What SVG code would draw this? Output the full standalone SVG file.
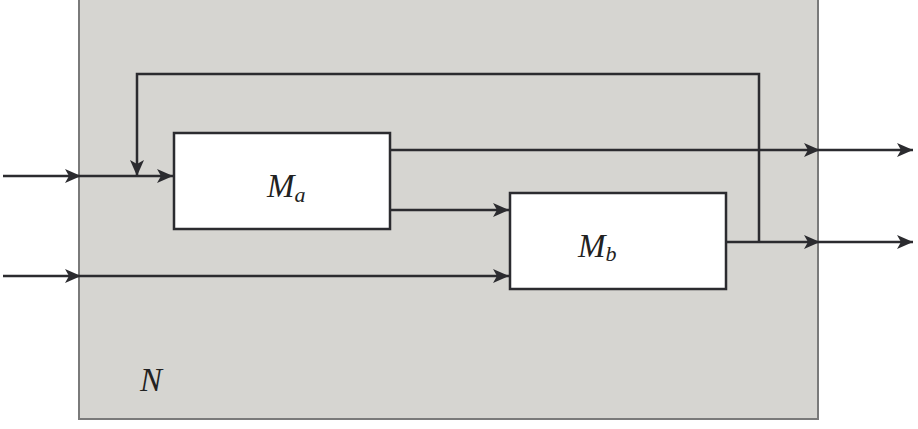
<svg xmlns="http://www.w3.org/2000/svg" width="918" height="429" viewBox="0 0 918 429">
<style>
.ln{fill:none;stroke:#2b2b2f;stroke-width:2.5}
.blk{fill:#fff;stroke:#2b2b2f;stroke-width:2.5}
.lbl{font-family:"Liberation Serif",serif;font-style:italic;font-size:33px;fill:#222}
.sub{font-size:22px}
</style>
<defs>
<marker id="ar" markerUnits="userSpaceOnUse" markerWidth="20" markerHeight="14" refX="16" refY="7" orient="auto">
<path d="M0,0 L16,7 L0,14 L4,7 Z" fill="#2b2b2f"/>
</marker>
</defs>
<g id="N">
<rect x="79" y="-2" width="739" height="421" fill="#d6d5d1" stroke="#7a7a7a" stroke-width="2"/>
<text class="lbl" x="140" y="391">N</text>
</g>
<g id="Ma">
<rect class="blk" x="174" y="133" width="216" height="96"/>
<text class="lbl" x="267" y="197">M<tspan class="sub" dy="5">a</tspan></text>
</g>
<g id="Mb">
<rect class="blk" x="510" y="193" width="216" height="96"/>
<text class="lbl" x="578" y="257">M<tspan class="sub" dy="4">b</tspan></text>
</g>
<g id="connectors">
<line class="ln" x1="3" y1="176" x2="81" y2="176" marker-end="url(#ar)"/>
<line class="ln" x1="81" y1="176" x2="173" y2="176" marker-end="url(#ar)"/>
<line class="ln" x1="3" y1="276" x2="81" y2="276" marker-end="url(#ar)"/>
<line class="ln" x1="81" y1="276" x2="509" y2="276" marker-end="url(#ar)"/>
<line class="ln" x1="390" y1="210" x2="509" y2="210" marker-end="url(#ar)"/>
<line class="ln" x1="390" y1="150" x2="820" y2="150" marker-end="url(#ar)"/>
<line class="ln" x1="820" y1="150" x2="913" y2="150" marker-end="url(#ar)"/>
<line class="ln" x1="726" y1="242" x2="820" y2="242" marker-end="url(#ar)"/>
<line class="ln" x1="820" y1="242" x2="913" y2="242" marker-end="url(#ar)"/>
<polyline class="ln" points="759,242 759,74 137,74 137,176" marker-end="url(#ar)"/>
</g>
</svg>
